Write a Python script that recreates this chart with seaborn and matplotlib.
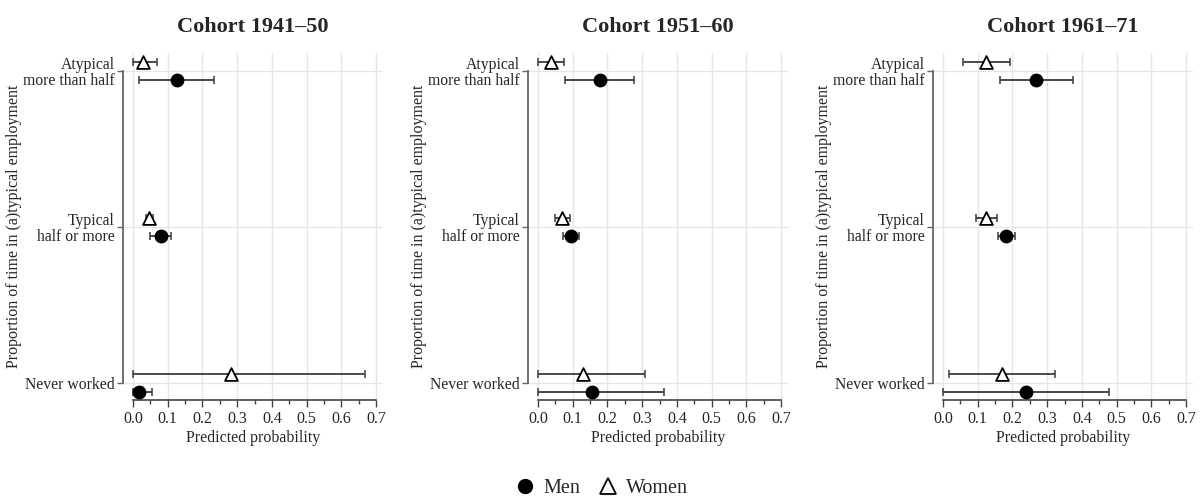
import numpy as np
import pandas as pd
import matplotlib
matplotlib.use("Agg")
import matplotlib.pyplot as plt
from matplotlib.lines import Line2D
import seaborn as sns

# data
cohorts = ["Cohort 1941\u201350", "Cohort 1951\u201360", "Cohort 1961\u201371"]
categories = ["Atypical\nmore than half", "Typical\nhalf or more", "Never worked"]

men_est = [[0.128, 0.080, 0.018], [0.179, 0.094, 0.155], [0.269, 0.182, 0.239]]
men_lo = [[0.018, 0.049, 0.000], [0.078, 0.071, 0.000], [0.163, 0.157, 0.000]]
men_hi = [[0.234, 0.109, 0.054], [0.277, 0.117, 0.363], [0.375, 0.206, 0.479]]

women_est = [[0.030, 0.046, 0.283], [0.036, 0.068, 0.130], [0.125, 0.125, 0.169]]
women_lo = [[0.000, 0.038, 0.000], [0.000, 0.050, 0.000], [0.057, 0.096, 0.017]]
women_hi = [[0.070, 0.058, 0.668], [0.075, 0.091, 0.308], [0.193, 0.156, 0.322]]

rows = []
for c, coh in enumerate(cohorts):
    for k, cat in enumerate(categories):
        rows.append(dict(cohort=coh, cat=k, sex="Men", est=men_est[c][k],
                         lo=men_lo[c][k], hi=men_hi[c][k]))
        rows.append(dict(cohort=coh, cat=k, sex="Women", est=women_est[c][k],
                         lo=women_lo[c][k], hi=women_hi[c][k]))
df = pd.DataFrame(rows)
df["ypos"] = df["cat"] + np.where(df["sex"] == "Men", 0.055, -0.055)

sns.set_theme(style="white")
plt.rcParams["font.family"] = ["Liberation Serif", "DejaVu Serif"]

fig = plt.figure(figsize=(12.03, 4.99), dpi=100)
W, H = 1203, 499
lefts = [123, 528, 933]

for c, coh in enumerate(cohorts):
    ax = fig.add_axes([lefts[c] / W, 1 - 400 / H, 260 / W, 347 / H])
    sub = df[df["cohort"] == coh]

    for sex, mk, fc in [("Women", "^", "white"), ("Men", "o", "black")]:
        s = sub[sub["sex"] == sex]
        ax.errorbar(s["est"], s["ypos"],
                    xerr=[s["est"] - s["lo"], s["hi"] - s["est"]],
                    fmt="none", ecolor="#3a3a3a", elinewidth=1.3,
                    capsize=3, capthick=1.1, zorder=2)
        sns.scatterplot(data=s, x="est", y="ypos", marker=mk, color=fc,
                        edgecolor="black", linewidth=1.3, s=75 if sex == "Men" else 85,
                        ax=ax, zorder=3, legend=False)

    ax.set_xlim(-0.029, 0.72)
    ax.set_ylim(2.109, -0.115)
    ax.set_xticks(np.arange(0, 0.71, 0.1))
    ax.set_xticklabels([f"{v:.1f}" for v in np.arange(0, 0.71, 0.1)])
    ax.set_xticks(np.arange(0.05, 0.7, 0.1), minor=True)
    ax.set_yticks(range(len(categories)))
    ax.set_yticklabels(categories)

    ax.grid(True, which="major", color="#e6e6e6", linewidth=1.0)
    ax.set_axisbelow(True)

    for sp in ["top", "right"]:
        ax.spines[sp].set_visible(False)
    ax.spines["left"].set_bounds(0, 2)
    ax.spines["left"].set_color("#666666")
    ax.spines["left"].set_linewidth(1.3)
    ax.spines["bottom"].set_bounds(0, 0.7)
    ax.spines["bottom"].set_color("#444444")
    ax.spines["bottom"].set_linewidth(1.2)

    ax.tick_params(axis="x", which="major", direction="out", length=5, width=1,
                   color="#444444", labelsize=11.5, pad=3, bottom=True)
    ax.tick_params(axis="x", which="minor", direction="out", length=3, width=1,
                   color="#444444", bottom=True)
    ax.tick_params(axis="y", direction="out", length=4, width=1, color="#666666",
                   labelsize=11.3, pad=2, left=True)
    for t in ax.get_yticklabels():
        t.set_linespacing(1.0)

    ax.set_xlabel("Predicted probability", fontsize=11.5, labelpad=2)
    ax.set_ylabel("Proportion of time in (a)typical employment", fontsize=11.5)
    ax.yaxis.set_label_coords(-0.39, 0.5)
    ax.set_title(coh, fontsize=16, fontweight="bold", pad=15)

handles = [
    Line2D([], [], marker="o", linestyle="none", markerfacecolor="black",
           markeredgecolor="black", markersize=10),
    Line2D([], [], marker="^", linestyle="none", markerfacecolor="white",
           markeredgecolor="black", markeredgewidth=1.3, markersize=11),
]
fig.legend(handles, ["Men", "Women"], loc="center", bbox_to_anchor=(0.5, 1 - 488 / H),
           ncol=2, frameon=False, fontsize=14.5, handlelength=1.0,
           handletextpad=0.4, columnspacing=0.9)

fig.savefig("out.png", dpi=100)
